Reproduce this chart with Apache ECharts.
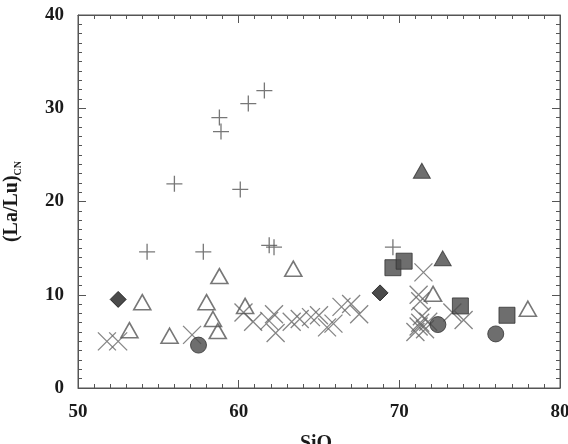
<!DOCTYPE html>
<html>
<head>
<meta charset="utf-8">
<script src="https://cdn.jsdelivr.net/npm/echarts@6/dist/echarts.min.js"></script>
<style>
  html, body { margin: 0; padding: 0; background: #fff; }
  #chart { width: 568px; height: 444px; }
</style>
</head>
<body>
<div id="chart"></div>
<script>
// values
var plusX = [54.3, 56.0, 57.8, 58.8, 58.9, 60.1, 60.6, 61.6, 61.9, 62.2, 69.6];
var plusY = [14.6, 21.9, 14.6, 29.0, 27.5, 21.3, 30.5, 31.9, 15.3, 15.1, 15.1];

var openTriX = [53.2, 54.0, 55.7, 58.0, 58.4, 58.7, 58.8, 60.4, 63.4, 72.1, 78.0];
var openTriY = [6.2, 9.2, 5.6, 9.2, 7.4, 6.1, 12.0, 8.8, 12.8, 10.1, 8.5];

var crossX = [51.8, 52.5, 57.1, 60.3, 60.9, 61.9, 62.2, 62.3, 63.3, 63.8, 64.5, 65.0, 65.5, 65.9, 66.4, 67.0, 67.5,
              71.2, 71.3, 71.5, 71.0, 71.2, 71.4, 71.6, 71.8, 71.3, 73.3, 74.0];
var crossY = [5.0, 5.0, 5.7, 8.1, 7.1, 7.2, 7.9, 5.9, 7.1, 7.4, 7.6, 7.8, 6.5, 6.9, 8.7, 9.0, 7.9,
              10.0, 9.3, 12.4, 6.0, 6.6, 7.7, 6.3, 7.1, 7.0, 8.1, 7.3];

var filledTriX = [71.4, 72.7];
var filledTriY = [23.3, 13.9];

var squareX = [69.6, 70.3, 73.8, 76.7];
var squareY = [12.9, 13.6, 8.8, 7.8];

var circleX = [57.5, 72.4, 76.0];
var circleY = [4.6, 6.8, 5.8];

var diamondX = [52.5, 68.8];
var diamondY = [9.5, 10.2];

var xTicks = [50, 60, 70, 80];
var yTicks = [0, 10, 20, 30, 40];

function pairs(xs, ys) {
  var out = [];
  for (var i = 0; i < xs.length; i++) out.push([xs[i], ys[i]]);
  return out;
}

var font = 'Liberation Serif';
var axisCol = '#555';

function makeAxis(pos, min, max, showLabel) {
  return {
    type: 'value',
    position: pos,
    min: min,
    max: max,
    interval: 10,
    axisLine: { show: true, onZero: false, lineStyle: { color: axisCol, width: 1 } },
    axisTick: { show: true, inside: true, length: 8, lineStyle: { color: axisCol, width: 1 } },
    minorTick: { show: true, splitNumber: 10, length: 4, lineStyle: { color: axisCol, width: 1 } },
    splitLine: { show: false },
    minorSplitLine: { show: false },
    axisLabel: {
      show: showLabel,
      margin: 15,
      color: '#1a1a1a',
      fontFamily: font,
      fontWeight: 'bold',
      fontSize: 19
    }
  };
}

var xBottom = makeAxis('bottom', xTicks[0], xTicks[xTicks.length - 1], true);
xBottom.name = '{a|SiO}{b|2}';
xBottom.nameLocation = 'middle';
xBottom.nameGap = 44;
xBottom.nameTextStyle = {
  rich: {
    a: { fontFamily: font, fontWeight: 'bold', fontSize: 20, color: '#1a1a1a' },
    b: { fontFamily: font, fontWeight: 'bold', fontSize: 12, color: '#1a1a1a', padding: [12, 0, 0, 0] }
  }
};

var xTop = makeAxis('top', 50, 80, false);

var yLeft = makeAxis('left', yTicks[0], yTicks[yTicks.length - 1], true);
yLeft.axisLabel.margin = 14;
yLeft.name = '{a|(La/Lu)}{b|CN}';
yLeft.nameLocation = 'middle';
yLeft.nameGap = 55;
yLeft.nameRotate = 90;
yLeft.nameTextStyle = {
  rich: {
    a: { fontFamily: font, fontWeight: 'bold', fontSize: 20, color: '#1a1a1a' },
    b: { fontFamily: font, fontWeight: 'bold', fontSize: 10, color: '#1a1a1a', padding: [12, 0, 0, 0] }
  }
};

var yRight = makeAxis('right', 0, 40, false);

var chart = echarts.init(document.getElementById('chart'), null, { renderer: 'canvas' });

chart.setOption({
  animation: false,
  backgroundColor: '#fff',
  grid: {
    left: 78, right: 8, top: 15, bottom: 56,
    containLabel: false, outerBoundsMode: 'none',
    show: true, borderColor: axisCol, borderWidth: 1, backgroundColor: 'transparent'
  },
  xAxis: [xBottom, xTop],
  yAxis: [yLeft, yRight],
  series: [
    {
      name: 'cross', type: 'scatter', xAxisIndex: 0, yAxisIndex: 0,
      symbol: 'path://M0,0L10,10M10,0L0,10', symbolSize: 18,
      itemStyle: { color: 'none', borderColor: '#666', borderWidth: 1.3 },
      data: pairs(crossX, crossY)
    },
    {
      name: 'plus', type: 'scatter',
      symbol: 'path://M5,0L5,10M0,5L10,5', symbolSize: 16,
      itemStyle: { color: 'none', borderColor: '#555', borderWidth: 1.3 },
      data: pairs(plusX, plusY)
    },
    {
      name: 'open triangle', type: 'scatter',
      symbol: 'triangle', symbolSize: [17, 15],
      itemStyle: { color: 'rgba(255,255,255,0)', borderColor: '#555', borderWidth: 1.6 },
      data: pairs(openTriX, openTriY)
    },
    {
      name: 'filled triangle', type: 'scatter',
      symbol: 'triangle', symbolSize: [17, 15],
      itemStyle: { color: '#4a4a4a', borderColor: '#333', borderWidth: 1 },
      data: pairs(filledTriX, filledTriY)
    },
    {
      name: 'square', type: 'scatter',
      symbol: 'rect', symbolSize: 16,
      itemStyle: { color: '#4a4a4a', borderColor: '#333', borderWidth: 1 },
      data: pairs(squareX, squareY)
    },
    {
      name: 'circle', type: 'scatter',
      symbol: 'circle', symbolSize: 16,
      itemStyle: { color: '#4a4a4a', borderColor: '#333', borderWidth: 1 },
      data: pairs(circleX, circleY)
    },
    {
      name: 'diamond', type: 'scatter',
      symbol: 'diamond', symbolSize: 16,
      itemStyle: { color: '#1e1e1e', borderColor: '#111', borderWidth: 1 },
      data: pairs(diamondX, diamondY)
    }
  ]
});
</script>
</body>
</html>
